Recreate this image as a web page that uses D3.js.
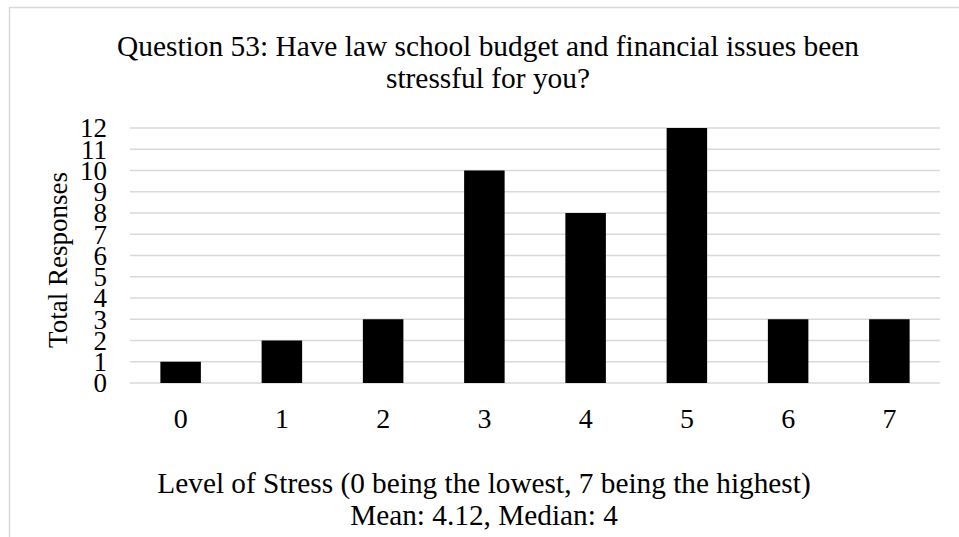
<!DOCTYPE html>
<html>
<head>
<meta charset="utf-8">
<script src="https://cdn.jsdelivr.net/npm/d3@7"></script>
<style>
html,body{margin:0;padding:0;background:#fff;}
svg{display:block;}
text{font-family:"Liberation Serif","Times New Roman",serif;fill:#000;}
</style>
</head>
<body>
<svg id="chart" width="959" height="537"></svg>
<script>
const categories = ["0","1","2","3","4","5","6","7"];
const values = [1, 2, 3, 10, 8, 12, 3, 3];
const yTicks = [0,1,2,3,4,5,6,7,8,9,10,11,12];
const titleLines = ["Question 53: Have law school budget and financial issues been", "stressful for you?"];
const xTitleLines = ["Level of Stress (0 being the lowest, 7 being the highest)", "Mean: 4.12, Median: 4"];
const yTitle = "Total Responses";

const svg = d3.select("#chart");
const W = 959, H = 537;
const plot = {left:130, right:940, top:128, bottom:383};

// chart border
svg.append("rect").attr("x",9.5).attr("y",7.5).attr("width",W+20).attr("height",H+20)
  .attr("fill","none").attr("stroke","#d9d9d9").attr("stroke-width",1.5);

const x = d3.scaleBand().domain(categories).range([plot.left, plot.right]).paddingInner(0.6).paddingOuter(0.3);
const y = d3.scaleLinear().domain([0,12]).range([plot.bottom, plot.top]);

// gridlines
svg.append("g").selectAll("line").data(yTicks).join("line")
  .attr("x1",plot.left).attr("x2",plot.right)
  .attr("y1",d=>y(d)).attr("y2",d=>y(d))
  .attr("stroke","#d9d9d9").attr("stroke-width",1.5);

// bars
svg.append("g").selectAll("rect").data(values).join("rect")
  .attr("x",(d,i)=>x(categories[i]))
  .attr("width",x.bandwidth())
  .attr("y",d=>y(d))
  .attr("height",d=>y(0)-y(d))
  .attr("fill","#000");

// y axis
const yAxis = d3.axisLeft(y).tickValues(yTicks).tickSize(0).tickPadding(0);
const gy = svg.append("g").attr("transform",`translate(107,0)`).call(yAxis);
gy.select(".domain").remove();
gy.selectAll("text").attr("font-size",27).attr("font-family","Liberation Serif").attr("dy","0.33em");

// x axis
const xAxis = d3.axisBottom(x).tickSize(0).tickPadding(0);
const gx = svg.append("g").attr("transform",`translate(0,${plot.bottom})`).call(xAxis);
gx.select(".domain").remove();
gx.selectAll("text").attr("font-size",28).attr("font-family","Liberation Serif").attr("dy",null).attr("y",45);

// title
svg.append("g").selectAll("text").data(titleLines).join("text")
  .attr("x",488).attr("y",(d,i)=>56+i*32).attr("text-anchor","middle")
  .attr("font-size",29.4).text(d=>d);

// x title
svg.append("g").selectAll("text").data(xTitleLines).join("text")
  .attr("x",484).attr("y",(d,i)=>493+i*32).attr("text-anchor","middle")
  .attr("font-size",29.3).text(d=>d);

// y title
svg.append("text").attr("transform","translate(67,260) rotate(-90)")
  .attr("text-anchor","middle").attr("font-size",27).text(yTitle);
</script>
</body>
</html>
